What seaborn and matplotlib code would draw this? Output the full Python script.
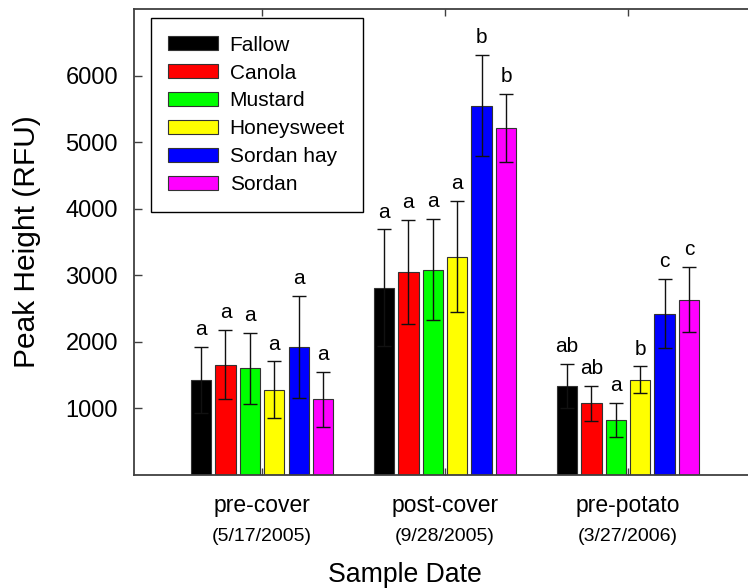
import matplotlib
matplotlib.use("Agg")
import matplotlib.pyplot as plt
import seaborn as sns
import pandas as pd

# ---- data ----
categories = ["pre-cover", "post-cover", "pre-potato"]
dates = ["(5/17/2005)", "(9/28/2005)", "(3/27/2006)"]
treatments = ["Fallow", "Canola", "Mustard", "Honeysweet", "Sordan hay", "Sordan"]
colors = ["#000000", "#ff0000", "#00ff00", "#ffff00", "#0000ff", "#ff00ff"]

means_pre_cover = [1425, 1655, 1600, 1280, 1920, 1135]
means_post_cover = [2815, 3050, 3085, 3280, 5550, 5210]
means_pre_potato = [1335, 1075, 825, 1430, 2425, 2635]

err_pre_cover = [500, 520, 540, 425, 765, 410]
err_post_cover = [875, 778, 760, 838, 763, 510]
err_pre_potato = [335, 265, 260, 200, 515, 493]

letters_pre_cover = ["a", "a", "a", "a", "a", "a"]
letters_post_cover = ["a", "a", "a", "a", "b", "b"]
letters_pre_potato = ["ab", "ab", "a", "b", "c", "c"]

yticks = [1000, 2000, 3000, 4000, 5000, 6000]

means = [means_pre_cover, means_post_cover, means_pre_potato]
errs = [err_pre_cover, err_post_cover, err_pre_potato]
letters = [letters_pre_cover, letters_post_cover, letters_pre_potato]

rows = []
for ci, cat in enumerate(categories):
    for ti, t in enumerate(treatments):
        rows.append({"date": cat, "treatment": t, "mean": means[ci][ti],
                     "err": errs[ci][ti], "letter": letters[ci][ti]})
df = pd.DataFrame(rows)

# ---- style ----
sns.set_style("white")
plt.rcParams["font.family"] = ["Liberation Sans", "DejaVu Sans"]
plt.rcParams["text.color"] = "black"
plt.rcParams["axes.labelcolor"] = "black"
plt.rcParams["xtick.color"] = "black"
plt.rcParams["ytick.color"] = "black"

fig = plt.figure(figsize=(7.48, 5.88), dpi=100)
ax = fig.add_axes([134 / 748, 113 / 588, 614 / 748, 466 / 588])

sns.barplot(data=df, x="date", y="mean", hue="treatment", order=categories,
            hue_order=treatments, palette=colors, errorbar=None, gap=0.17,
            edgecolor="#333333", linewidth=0.8, saturation=1, ax=ax)

# error bars and significance letters
for ti, t in enumerate(treatments):
    cont = ax.containers[ti]
    for ci, bar in enumerate(cont):
        x = bar.get_x() + bar.get_width() / 2
        m = means[ci][ti]
        e = errs[ci][ti]
        ax.errorbar([x], [m], yerr=[e], fmt="none", ecolor="#111111",
                    elinewidth=1.0, capsize=5, capthick=1.0, zorder=5)
        ax.annotate(letters[ci][ti], xy=(x, m + e), xytext=(0, 8.5),
                    textcoords="offset points", ha="center", va="baseline",
                    fontsize=15, color="black")

ax.set_xlim(-0.70, 2.656)
ax.set_ylim(0, 7000)
ax.set_yticks(yticks)
ax.set_yticklabels([str(v) for v in yticks])

for s in ["top", "left", "bottom"]:
    ax.spines[s].set_color("#404040")
    ax.spines[s].set_linewidth(1.3)
ax.spines["right"].set_visible(False)

ax.tick_params(axis="y", direction="in", length=6, width=1, left=True,
               right=False, pad=11.5, labelsize=17, colors="#404040",
               labelcolor="black")
ax.tick_params(axis="x", direction="in", length=5, width=1, top=True,
               bottom=True, pad=14, labelsize=16.5, colors="#404040",
               labelcolor="black")

# date sub-labels
for ci, d in enumerate(dates):
    ax.annotate(d, xy=(ci, 0), xycoords=("data", "axes fraction"),
                xytext=(0, -47.3), textcoords="offset points",
                ha="center", va="baseline", fontsize=14, color="black")

ax.set_ylabel("Peak Height (RFU)", fontsize=21.5, color="black")
ax.yaxis.label.set_va("center")
ax.yaxis.set_label_coords((27.5 - 134) / 614, 0.5)
ax.set_xlabel("Sample Date", fontsize=19.2, color="black")
ax.xaxis.label.set_va("baseline")
ax.xaxis.set_label_coords((405 - 134) / 614, -106.5 / 466)

leg = ax.legend(loc="upper left", bbox_to_anchor=(0.027, 0.981),
                borderaxespad=0, frameon=True, fancybox=False,
                edgecolor="black", framealpha=1, fontsize=15,
                handlelength=2.4, handleheight=0.62, labelspacing=0.43,
                borderpad=0.85, handletextpad=0.55)
leg.get_frame().set_linewidth(1.0)
for txt in leg.get_texts():
    txt.set_color("black")

fig.savefig("out.png", dpi=100)
